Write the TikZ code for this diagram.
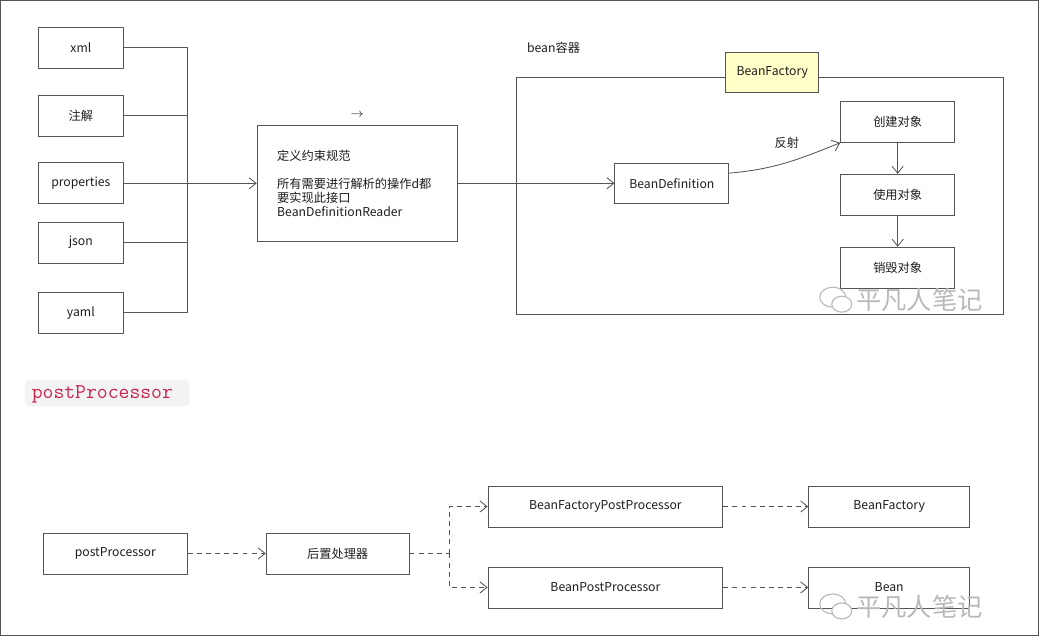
\documentclass[tikz,border=0pt]{standalone}
\usepackage{fontspec}
\setmainfont{Noto Sans CJK SC}
\usepackage{tikz}
\usetikzlibrary{arrows.meta,calc}
\definecolor{linegray}{RGB}{85,85,85}
\definecolor{txtgray}{RGB}{30,30,30}
\definecolor{factoryyellow}{RGB}{255,255,200}
\definecolor{codered}{RGB}{199,37,78}
\definecolor{codebg}{RGB}{243,243,243}
\definecolor{markgray}{RGB}{185,185,185}
\newcommand{\lblfont}{\fontsize{8.7pt}{9.9pt}\selectfont}

\begin{document}
\begin{tikzpicture}[x=0.025cm,y=-0.025cm,
  >={Straight Barb[length=5pt,width=8pt]},
  every path/.style={draw=linegray,line width=0.6pt},
  box/.style={draw=linegray,fill=white,inner sep=2pt,text=txtgray,font=\lblfont,
    minimum height=1.025cm},
  dash line/.style={dash pattern=on 3.5pt off 3pt},
  wmark/.style={text=markgray,font=\fontsize{18pt}{18pt}\selectfont}]
\useasboundingbox (0,0) rectangle (1039,636);

\node[box,minimum width=2.125cm] (xml) at (80.5,47.5) {xml};
\node[box,minimum width=2.125cm] (anno) at (80.5,115.5) {注解};
\node[box,minimum width=2.125cm] (props) at (80.5,183) {properties};
\node[box,minimum width=2.125cm] (json) at (80.5,242.5) {json};
\node[box,minimum width=2.125cm] (yaml) at (80.5,312.5) {yaml};
\coordinate (bus) at (187,47.5);
\draw (xml.east) -- (bus) |- (yaml.east);
\draw (anno.east) -- (anno.east -| bus);
\draw (json.east) -- (json.east -| bus);

\node[box,minimum width=5cm,minimum height=2.9cm,text width=4cm,inner xsep=0.5cm,align=left]
  (reader) at (357,183) {定义约束规范\\[9.9pt]所有需要进行解析的操作d都\\要实现此接口\\BeanDefinitionReader};
\node[text=txtgray,font=\lblfont] (small) at (357,115) {$\rightarrow$};
\draw[->] (props.east) -- (reader.west);

\draw (516,77) rectangle (1004,314);
\node[right,text=txtgray,font=\lblfont] (ctn) at (522,47) {bean容器};
\node[box,fill=factoryyellow,minimum width=2.325cm,minimum height=1cm] (bfac) at (772.5,72) {BeanFactory};
\node[box,minimum width=2.85cm,minimum height=1cm] (bdef) at (672,183) {BeanDefinition};
\node[box,minimum width=2.85cm] (create) at (898,121.5) {创建对象};
\node[box,minimum width=2.85cm] (use) at (898,194.5) {使用对象};
\node[box,minimum width=2.85cm] (destroy) at (898,267.5) {销毁对象};
\node[text=txtgray,font=\lblfont] (refl) at (787,143) {反射};
\draw[->] (reader.east) -- (bdef.west);
\draw[->] (bdef.10) to[out=5,in=202] (create.south west);
\draw[->] (create.south) -- (use.north);
\draw[->] (use.south) -- (destroy.north);

\fill[codebg,rounded corners=3pt] (25,380) rectangle (189,406);
\node[right,inner sep=0pt,text=codered,font=\ttfamily\fontsize{15pt}{15pt}\selectfont] (code) at (31,394) {postProcessor};

\node[box,minimum width=3.6cm] (pp) at (115,553.5) {postProcessor};
\node[box,minimum width=3.575cm] (handler) at (337.5,553.5) {后置处理器};
\node[box,minimum width=5.875cm] (bfpp) at (605.5,506.5) {BeanFactoryPostProcessor};
\node[box,minimum width=5.875cm] (bpp) at (605.5,587.5) {BeanPostProcessor};
\node[box,minimum width=4.025cm] (bf) at (889.5,506.5) {BeanFactory};
\node[box,minimum width=4.025cm] (bean) at (889.5,587.5) {Bean};
\coordinate (split) at (449,553.5);
\draw[dash line,->] (pp.east) -- (handler.west);
\draw[dash line] (handler.east) -- (split);
\draw[dash line,->] (split) |- (bfpp.west);
\draw[dash line,->] (split) |- (bpp.west);
\draw[dash line,->] (bfpp.east) -- (bf.west);
\draw[dash line,->] (bpp.east) -- (bean.west);

\foreach \y/\n in {300/marktop,607/markbottom}{
  \draw[markgray,line width=0.8pt] (833,\y-3) ellipse (13 and 10);
  \draw[markgray,line width=0.8pt,fill=white] (842,\y+4) ellipse (10 and 8);
  \node[wmark,right,inner sep=0pt] (\n) at (856,\y) {平凡人笔记};
}
\end{tikzpicture}
\end{document}
